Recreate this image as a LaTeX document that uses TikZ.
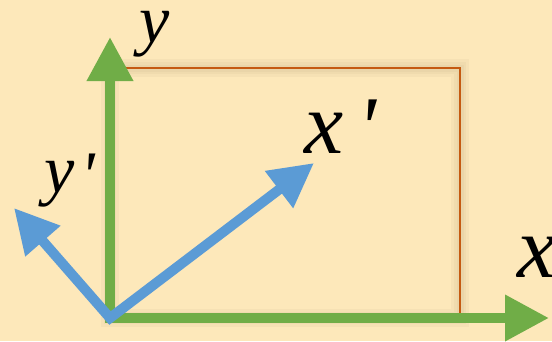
\documentclass[tikz,border=0pt]{standalone}
\usepackage{fontspec}
\newfontfamily\lblfont{Liberation Serif Italic}
\usetikzlibrary{arrows.meta}
\definecolor{bgcream}{HTML}{FDE8BA}
\definecolor{axgreen}{HTML}{70AD47}
\definecolor{axblue}{HTML}{5B9BD5}
\definecolor{rectorange}{HTML}{C55A11}

\begin{document}
\begin{tikzpicture}[x=1pt, y=-1pt,
  >={Triangle[length=44pt, width=44pt]},
  axis/.style={line width=10pt, line join=miter, <->},
  oldaxis/.style={axis, draw=axgreen},
  newaxis/.style={axis, draw=axblue},
  big/.style={font=\lblfont\fontsize{88}{88}\selectfont, inner sep=0pt, anchor=base west},
  small/.style={big, font=\lblfont\fontsize{68}{68}\selectfont},
]
\useasboundingbox (0,0) rectangle (552,341);
\fill[bgcream] (0,0) rectangle (552,341);

\coordinate (o)  at (110,318);
\coordinate (xt) at (549,318);
\coordinate (yt) at (110,37);
\coordinate (xp) at (314,163);
\coordinate (yp) at (14,208);
\coordinate (c)  at (460,68);

% soft shadow under the frame
\foreach \w in {18,12,7}
  \draw[black!70!brown, opacity=0.03, line width=\w pt, shift={(-4,5)}] (o) rectangle (c);
\draw[rectorange, line width=2.5pt] (o) rectangle (c);

\draw[oldaxis] (yt) -- (o) -- (xt);
\draw[newaxis] (yp) -- (o) -- (xp);

\node[big]   (xl)  at (517,277) {x};
\node[small] (yl)  at (139,42)  {y};
\node[big]   (xpl) at (304,153) {x\hspace{14pt}\raisebox{-4pt}{\textquotesingle}};
\node[small] (ypl) at (44,192)  {y\hspace{6pt}\raisebox{-6pt}{\textquotesingle}};
\end{tikzpicture}
\end{document}
